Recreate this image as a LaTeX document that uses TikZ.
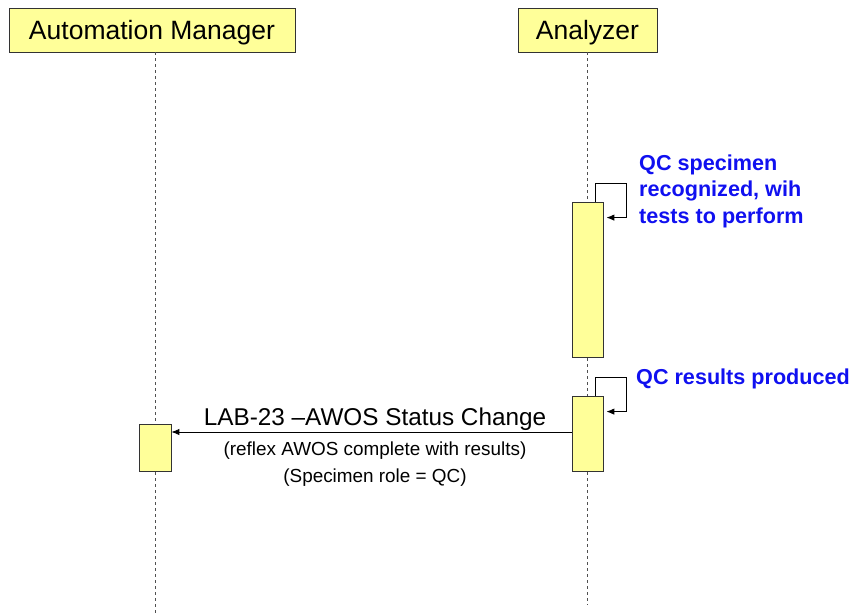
\documentclass[tikz,border=0pt]{standalone}
\usepackage{fontspec}
\setmainfont{Liberation Sans}
\usetikzlibrary{arrows.meta}
\definecolor{boxfill}{HTML}{FFFF99}
\definecolor{lifegrey}{HTML}{505050}
\definecolor{notecol}{HTML}{1010F0}
\begin{document}
\begin{tikzpicture}[x=1pt,y=-1pt,
  header/.style={draw=black!80,fill=boxfill,line width=0.8pt,inner sep=0pt,
    text height=19pt,text depth=0pt,font=\fontsize{26.5}{30}\selectfont},
  actbox/.style={draw=black!80,fill=boxfill,line width=0.8pt,inner sep=0pt,minimum width=31pt},
  lifeline/.style={draw=lifegrey,line width=0.8pt,dash pattern=on 3pt off 3pt},
  msg/.style={draw=black,line width=0.9pt,-{Latex[length=8pt,width=6.5pt]}},
  note/.style={text=notecol,font=\fontsize{21.6}{26.5}\selectfont\bfseries,inner sep=0pt,align=left},
  bigmsg/.style={inner sep=0pt,text height=17.4pt,text depth=0pt,font=\fontsize{24.3}{28}\selectfont},
  smallmsg/.style={inner sep=0pt,text height=13.5pt,text depth=0pt,font=\fontsize{18.9}{22}\selectfont}]
\useasboundingbox (0,0) rectangle (854,613);

% participants
\node[header,minimum width=286pt,minimum height=44pt] (am) at (152,30) {Automation Manager};
\node[header,minimum width=139pt,minimum height=44pt] (an) at (587.5,30) {Analyzer};

% lifelines
\coordinate (amEnd) at (155,613);
\coordinate (anEnd) at (587.5,605);
\draw[lifeline] (am.south -| amEnd) -- (amEnd);
\draw[lifeline] (an.south -| anEnd) -- (anEnd);

% activation bars
\node[actbox,minimum height=155pt] (act1) at (587.5,279.5) {};
\node[actbox,minimum height=75pt] (act2) at (587.5,433.5) {};
\node[actbox,minimum width=32pt,minimum height=47pt] (amact) at (155,447.5) {};

% self messages on the analyzer
\draw[msg] ([xshift=-8pt]act1.north east) -- ++(0,-18) -- ++(31,0) -- ++(0,34) -- ++(-20,0);
\node[note,anchor=west] (n1) at (639,191) {QC specimen\\recognized, wih\\tests to perform};

\draw[msg] ([xshift=-8pt]act2.north east) -- ++(0,-18) -- ++(31,0) -- ++(0,34) -- ++(-20,0);
\node[note,anchor=west] (n2) at (636,379) {QC results produced};

% status change message
\coordinate (m1) at (0,432);
\draw[msg] (act2.west |- m1) -- (amact.east |- m1);
\node[bigmsg] (l1) at (375,416.5) {LAB-23 –AWOS Status Change};
\node[smallmsg] (l2) at (375,449) {(reflex AWOS complete with results)};
\node[smallmsg] (l3) at (375,475.5) {(Specimen role = QC)};
\end{tikzpicture}
\end{document}
